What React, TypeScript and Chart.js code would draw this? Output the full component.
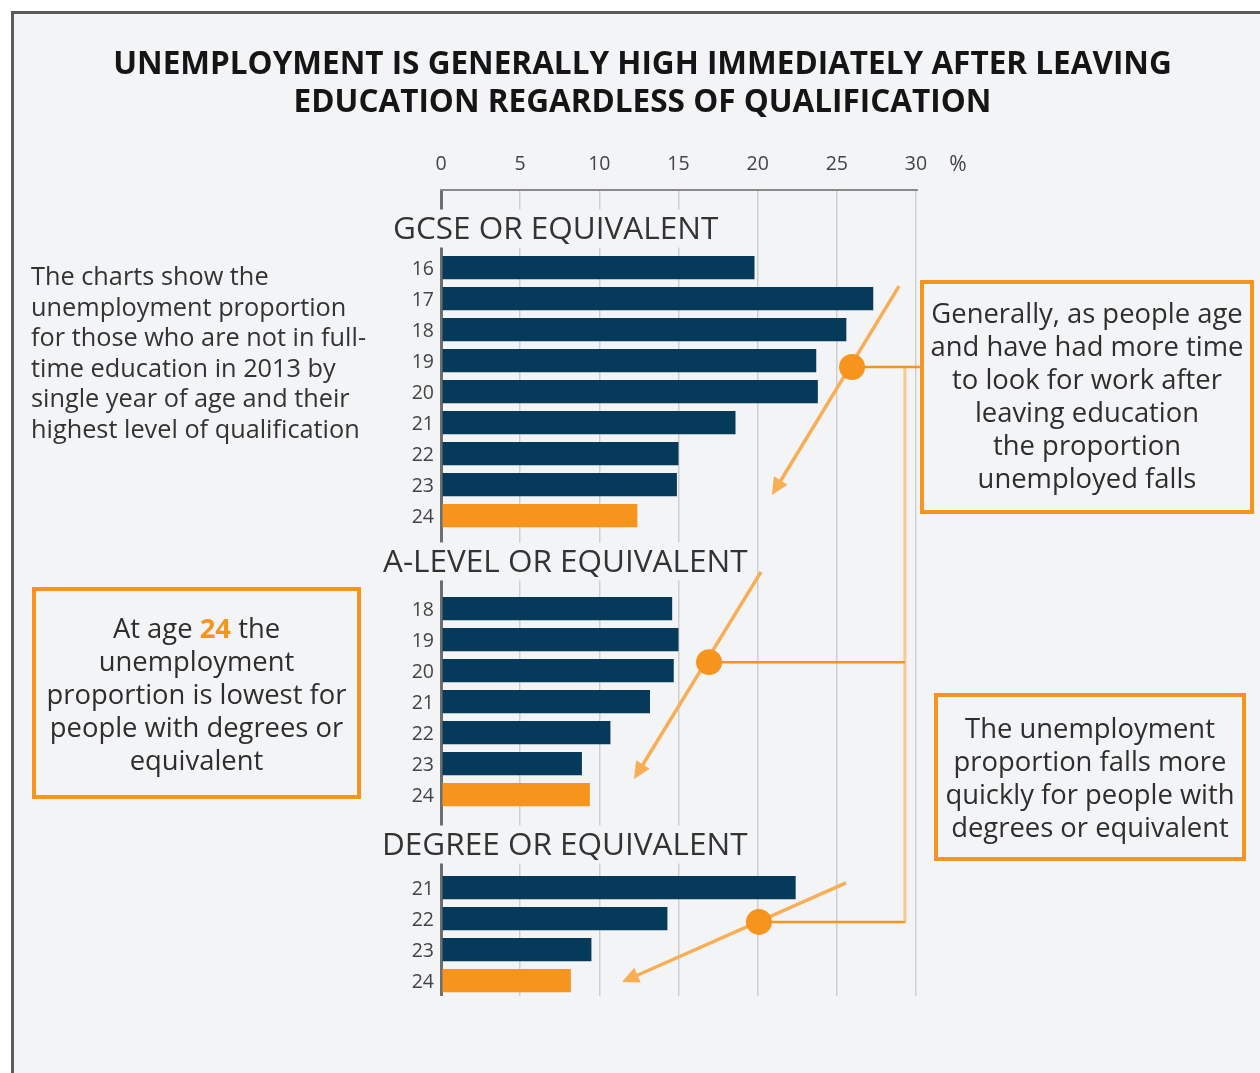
import React, { useEffect, useRef } from "react";
import { Chart, registerables } from "chart.js";

Chart.register(...registerables);

// ---------- data ----------
const gcseAges = ["16", "17", "18", "19", "20", "21", "22", "23", "24"];
const gcseValues = [19.8, 27.3, 25.6, 23.7, 23.8, 18.6, 15.0, 14.9, 12.4];
const alevelAges = ["18", "19", "20", "21", "22", "23", "24"];
const alevelValues = [14.6, 15.0, 14.7, 13.2, 10.7, 8.9, 9.4];
const degreeAges = ["21", "22", "23", "24"];
const degreeValues = [22.4, 14.3, 9.5, 8.2];
const groupTitles = ["GCSE OR EQUIVALENT", "A-LEVEL OR EQUIVALENT", "DEGREE OR EQUIVALENT"];
const xTickValues = [0, 5, 10, 15, 20, 25, 30];
const highlightAge = "24";
const unitLabel = "%";

const titleLines = [
  "UNEMPLOYMENT IS GENERALLY HIGH IMMEDIATELY AFTER LEAVING",
  "EDUCATION REGARDLESS OF QUALIFICATION",
];
const introLines = [
  "The charts show the",
  "unemployment proportion",
  "for those who are not in full-",
  "time education in 2013 by",
  "single year of age and their",
  "highest level of qualification",
];
const rightTopLines = [
  "Generally, as people age",
  "and have had more time",
  "to look for work after",
  "leaving education",
  "the proportion",
  "unemployed falls",
];
const rightBottomLines = [
  "The unemployment",
  "proportion falls more",
  "quickly for people with",
  "degrees or equivalent",
];
const leftBoxLines = ["unemployment", "proportion is lowest for", "people with degrees or", "equivalent"];

// ---------- build category table ----------
const GAP = 2;
const labels: string[] = [];
const values: (number | null)[] = [];
const groupStarts: number[] = [];
function pushBlank(n: number) {
  for (let i = 0; i < n; i++) {
    labels.push("");
    values.push(null);
  }
}
[
  [gcseAges, gcseValues],
  [alevelAges, alevelValues],
  [degreeAges, degreeValues],
].forEach(([ages, vals]: any) => {
  pushBlank(GAP);
  groupStarts.push(labels.length);
  ages.forEach((a: string, i: number) => {
    labels.push(a);
    values.push(vals[i]);
  });
});

const NAVY = "#053a5a";
const ORANGE = "#f7941d";
const BG = "#f3f4f6";
const FONT = '"Open Sans", sans-serif';

// annotation geometry in data units (x value, category slot)
const headingOffsets = [1.29, 1.55, 1.42];
const headingLeft = [48, 58, 59];
const arrows = [
  { from: [28.93, 2.6], to: [20.9, 9.34], dot: [25.96, 5.21] },
  { from: [20.21, 11.82], to: [12.19, 18.5], dot: [16.93, 14.73] },
  { from: [25.58, 21.85], to: [11.43, 25.05], dot: [20.08, 23.11] },
];
const connectorX = 29.3;
const connectorFirstEnd = 30.25;

const overlayPlugin = {
  id: "overlay",
  afterDatasetsDraw(chart: any) {
    const { ctx, chartArea, scales } = chart;
    const xs = scales.x;
    const ys = scales.y;
    const y0 = ys.getPixelForValue(0);
    const step = ys.getPixelForValue(1) - y0;
    const py = (s: number) => y0 + s * step;
    const px = (v: number) => xs.getPixelForValue(v);
    ctx.save();

    // group headings
    ctx.font = `31.5px ${FONT}`;
    ctx.textBaseline = "middle";
    ctx.textAlign = "left";
    groupTitles.forEach((t, i) => {
      const y = py(groupStarts[i] - headingOffsets[i]);
      const x = chartArea.left - headingLeft[i];
      const w = ctx.measureText(t).width;
      ctx.fillStyle = BG;
      ctx.fillRect(x - 4, y - 18, w + 8, 38);
      ctx.fillStyle = "#333333";
      ctx.fillText(t, x, y + 3);
    });

    // unit label
    ctx.font = `21px ${FONT}`;
    ctx.textAlign = "center";
    ctx.fillStyle = "#444444";
    ctx.fillText(unitLabel, px(30) + 42, xs.bottom - 25);

    // connector lines
    const cx = px(connectorX);
    ctx.strokeStyle = "#fbc98f";
    ctx.lineWidth = 3;
    ctx.beginPath();
    ctx.moveTo(cx, py(arrows[0].dot[1]));
    ctx.lineTo(cx, py(arrows[2].dot[1]) + 1);
    ctx.stroke();
    ctx.strokeStyle = ORANGE;
    ctx.lineWidth = 2.5;
    arrows.forEach((a, i) => {
      ctx.beginPath();
      ctx.moveTo(px(a.dot[0]), py(a.dot[1]));
      ctx.lineTo(i === 0 ? px(connectorFirstEnd) : cx, py(a.dot[1]));
      ctx.stroke();
    });

    // arrows
    arrows.forEach((a) => {
      const x1 = px(a.from[0]);
      const y1 = py(a.from[1]);
      const x2 = px(a.to[0]);
      const y2 = py(a.to[1]);
      const ang = Math.atan2(y2 - y1, x2 - x1);
      const hl = 17;
      const hw = 8;
      const bx = x2 - hl * Math.cos(ang);
      const by = y2 - hl * Math.sin(ang);
      ctx.strokeStyle = "#f9ae55";
      ctx.lineWidth = 3.5;
      ctx.beginPath();
      ctx.moveTo(x1, y1);
      ctx.lineTo(bx + 2 * Math.cos(ang), by + 2 * Math.sin(ang));
      ctx.stroke();
      ctx.fillStyle = "#f9ae55";
      ctx.beginPath();
      ctx.moveTo(x2, y2);
      ctx.lineTo(bx + hw * Math.sin(ang), by - hw * Math.cos(ang));
      ctx.lineTo(bx - hw * Math.sin(ang), by + hw * Math.cos(ang));
      ctx.closePath();
      ctx.fill();
      // dot
      ctx.fillStyle = ORANGE;
      ctx.beginPath();
      ctx.arc(px(a.dot[0]), py(a.dot[1]), 13, 0, Math.PI * 2);
      ctx.fill();
    });

    ctx.restore();
  },
};

function BoxLines({ lines, top, left, width, size = 27.4, lh = 33 }: any) {
  return (
    <div
      style={{
        position: "absolute",
        top,
        left,
        width,
        textAlign: "center",
        fontSize: size,
        lineHeight: `${lh}px`,
        color: "#2e2e2e",
        whiteSpace: "nowrap",
      }}
    >
      {lines.map((l: any, i: number) => (
        <div key={i}>{l}</div>
      ))}
    </div>
  );
}

export default function App() {
  const canvasRef = useRef<HTMLCanvasElement | null>(null);

  useEffect(() => {
    let chart: Chart | null = null;
    let cancelled = false;
    const make = () => {
      if (cancelled || !canvasRef.current) return;
      chart = new Chart(canvasRef.current, {
        type: "bar",
        data: {
          labels,
          datasets: [
            {
              data: values as any,
              backgroundColor: labels.map((l) => (l === highlightAge ? ORANGE : NAVY)),
              borderWidth: 0,
              barPercentage: 0.75,
              categoryPercentage: 1,
            },
          ],
        },
        options: {
          indexAxis: "y",
          responsive: false,
          animation: false,
          devicePixelRatio: 1,
          layout: { padding: { left: 401, top: 140, right: 344, bottom: 77 } },
          plugins: { legend: { display: false }, tooltip: { enabled: false }, title: { display: false } },
          scales: {
            x: {
              position: "top",
              min: 0,
              max: 30,
              afterFit: (s: any) => {
                s.height = 50;
              },
              afterBuildTicks: (s: any) => {
                s.ticks = xTickValues.map((v) => ({ value: v }));
              },
              ticks: {
                padding: 14,
                color: "#444444",
                font: { family: FONT, size: 19.5 },
              },
              grid: {
                drawTicks: false,
                color: (c: any) => (c.tick && c.tick.value === 0 ? "#6e6e6e" : "#cfcfcf"),
                lineWidth: (c: any) => (c.tick && c.tick.value === 0 ? 3 : 1.5),
              },
              border: { display: true, color: "#8a8a8a", width: 2 },
            },
            y: {
              afterFit: (s: any) => {
                s.width = 40;
              },
              ticks: {
                autoSkip: false,
                padding: 7,
                labelOffset: 2,
                color: "#444444",
                font: { family: FONT, size: 19.5 },
              },
              grid: { display: false, drawTicks: false },
              border: { display: false },
            },
          },
        },
        plugins: [overlayPlugin],
      });
    };
    const fonts: any = (document as any).fonts;
    if (fonts && fonts.load) {
      Promise.all([fonts.load(`30px "Open Sans"`), fonts.load(`bold 29px "Open Sans"`)])
        .catch(() => null)
        .then(make);
    } else make();
    return () => {
      cancelled = true;
      if (chart) chart.destroy();
    };
  }, []);

  return (
    <div
      style={{
        position: "absolute",
        left: 0,
        top: 0,
        width: 1260,
        height: 1073,
        overflow: "hidden",
        background: "#ffffff",
        fontFamily: FONT,
      }}
    >
      <div
        style={{
          position: "absolute",
          left: 11,
          top: 11,
          width: 1300,
          height: 1100,
          borderLeft: "3px solid #5a5a5a",
          borderTop: "3px solid #5a5a5a",
          background: BG,
        }}
      />
      <canvas
        ref={canvasRef}
        width={1260}
        height={1073}
        style={{ position: "absolute", left: 0, top: 0, width: 1260, height: 1073 }}
      />
      <div
        style={{
          position: "absolute",
          left: 0,
          top: 43,
          width: 1285,
          textAlign: "center",
          fontSize: 31.5,
          fontWeight: 700,
          lineHeight: "38px",
          color: "#151515",
          whiteSpace: "nowrap",
        }}
      >
        {titleLines.map((l, i) => (
          <div key={i}>{l}</div>
        ))}
      </div>
      <div
        style={{
          position: "absolute",
          left: 31,
          top: 260,
          fontSize: 25.3,
          lineHeight: "30.6px",
          color: "#333333",
          whiteSpace: "nowrap",
        }}
      >
        {introLines.map((l, i) => (
          <div key={i}>{l}</div>
        ))}
      </div>
      {/* left box */}
      <div
        style={{
          position: "absolute",
          left: 32,
          top: 587,
          width: 329,
          height: 212,
          boxSizing: "border-box",
          border: `4px solid ${ORANGE}`,
        }}
      />
      <BoxLines
        lines={[
          <span>
            At age <span style={{ color: ORANGE, fontWeight: 700 }}>24</span> the
          </span>,
          ...leftBoxLines,
        ]}
        top={611}
        left={32}
        width={329}
      />
      {/* right top box */}
      <div
        style={{
          position: "absolute",
          left: 920,
          top: 280,
          width: 334,
          height: 234,
          boxSizing: "border-box",
          border: `4px solid ${ORANGE}`,
        }}
      />
      <BoxLines lines={rightTopLines} top={295.5} left={920} width={334} />
      {/* right bottom box */}
      <div
        style={{
          position: "absolute",
          left: 934,
          top: 693,
          width: 312,
          height: 168,
          boxSizing: "border-box",
          border: `4px solid ${ORANGE}`,
        }}
      />
      <BoxLines lines={rightBottomLines} top={711} left={934} width={312} />
    </div>
  );
}
